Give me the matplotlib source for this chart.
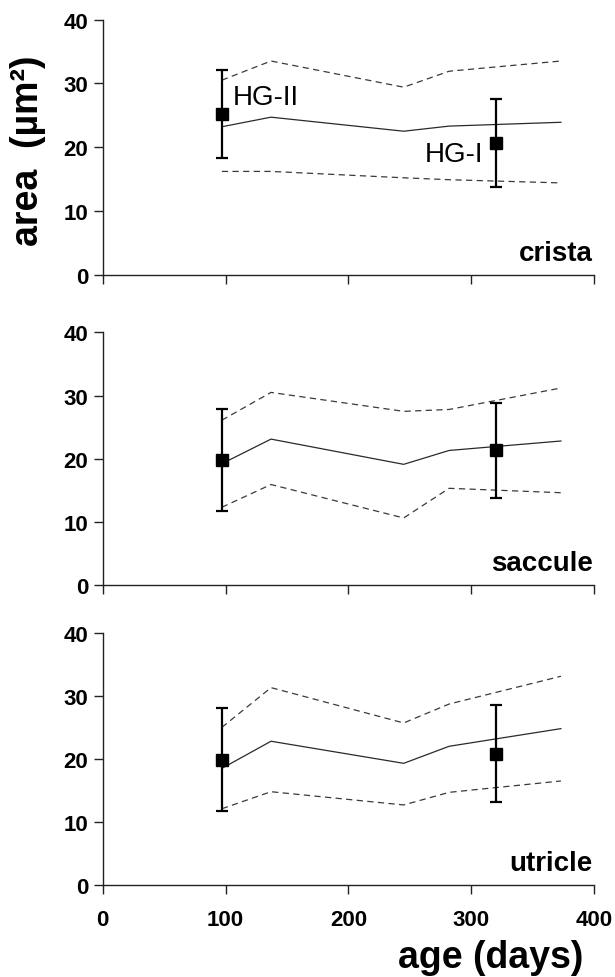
import matplotlib
matplotlib.use('Agg')
import matplotlib.pyplot as plt

plt.rcParams['font.family'] = ['Liberation Sans', 'DejaVu Sans']

# ages where the mean / +-SD curves are sampled
ages = [97, 137, 245, 282, 373]

# HG-II and HG-I measurements (age, mean, SD)
hg_ages = [97, 320]

panels = ['crista', 'saccule', 'utricle']

crista_mean = [23.2, 24.7, 22.5, 23.3, 23.9]
crista_upper = [30.5, 33.5, 29.4, 31.9, 33.5]
crista_lower = [16.2, 16.2, 15.2, 14.9, 14.4]
crista_hg = [25.2, 20.6]
crista_err = [6.9, 6.9]

saccule_mean = [19.2, 23.1, 19.1, 21.3, 22.8]
saccule_upper = [26.1, 30.5, 27.5, 27.8, 31.2]
saccule_lower = [12.3, 15.9, 10.6, 15.3, 14.6]
saccule_hg = [19.8, 21.3]
saccule_err = [8.1, 7.6]

utricle_mean = [18.5, 22.8, 19.3, 22.0, 24.8]
utricle_upper = [25.0, 31.3, 25.7, 28.7, 33.1]
utricle_lower = [12.1, 14.8, 12.7, 14.7, 16.5]
utricle_hg = [19.9, 20.8]
utricle_err = [8.1, 7.7]

means = [crista_mean, saccule_mean, utricle_mean]
uppers = [crista_upper, saccule_upper, utricle_upper]
lowers = [crista_lower, saccule_lower, utricle_lower]
hg_vals = [crista_hg, saccule_hg, utricle_hg]
hg_errs = [crista_err, saccule_err, utricle_err]

fig = plt.figure(figsize=(6.15, 9.78), dpi=100)

# axes boxes in figure fractions (left, bottom, width, height)
boxes = [(0.167, 0.718, 0.799, 0.261),
         (0.167, 0.401, 0.799, 0.258),
         (0.167, 0.094, 0.799, 0.258)]

axes = []
for i, name in enumerate(panels):
    ax = fig.add_axes(boxes[i])
    axes.append(ax)

    ax.plot(ages, means[i], color='#2a2a2a', lw=0.9)
    ax.plot(ages, uppers[i], color='#3a3a3a', lw=0.9, ls=(0, (5, 3.5)))
    ax.plot(ages, lowers[i], color='#3a3a3a', lw=0.9, ls=(0, (5, 3.5)))
    ax.errorbar(hg_ages, hg_vals[i], yerr=hg_errs[i], fmt='s', color='black',
                ms=8.5, elinewidth=1.6, capsize=4, capthick=1.6, zorder=5)

    ax.set_xlim(0, 400)
    ax.set_ylim(0, 40)
    ax.set_xticks([0, 100, 200, 300, 400])
    ax.set_yticks([0, 10, 20, 30, 40])
    for s in ['top', 'right']:
        ax.spines[s].set_visible(False)
    for s in ['left', 'bottom']:
        ax.spines[s].set_color('#222222')
        ax.spines[s].set_linewidth(1.0)
    ax.tick_params(axis='both', length=6.5, width=1.0, color='#222222')
    ax.tick_params(axis='y', labelsize=16, pad=4)
    ax.tick_params(axis='x', labelsize=16, pad=11)
    for lab in ax.get_yticklabels() + ax.get_xticklabels():
        lab.set_fontweight('bold')
    if i < 2:
        ax.set_xticklabels([])

    ax.text(0.997, 0.035, name, transform=ax.transAxes, ha='right', va='bottom',
            fontsize=20, fontweight='bold')

axes[0].text(106, 27.8, 'HG-II', fontsize=20, va='center', ha='left')
axes[0].text(310, 19.0, 'HG-I', fontsize=20, va='center', ha='right')

fig.text(0.045, 0.846, 'area  (µm²)', rotation=90, fontsize=27,
         fontweight='bold', ha='center', va='center')
fig.text(0.948, 0.0205, 'age (days)', fontsize=27, fontweight='bold',
         ha='right', va='center')

plt.savefig('out.png', dpi=100)
